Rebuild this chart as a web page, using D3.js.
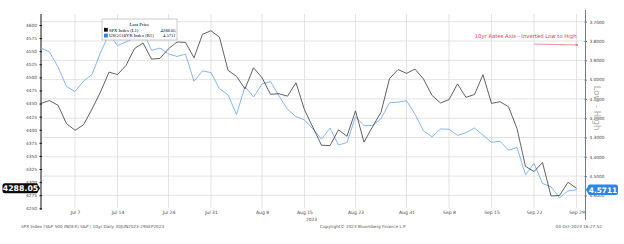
<!DOCTYPE html>
<meta charset="utf-8">
<style>
  body { margin: 0; background: #fff; }
  text { font-family: "DejaVu Sans", sans-serif; }
  .grid { stroke: #dcdcdc; stroke-width: 0.8; }
  .tick text { fill: #444; }
</style>
<body>
<script src="https://d3js.org/d3.v7.min.js"></script>
<script>

  // trading days 30 Jun 2023 - 29 Sep 2023
  const dates = [
    "Jun 30", "Jul 3", "Jul 5", "Jul 6", "Jul 7", "Jul 10", "Jul 11", "Jul 12", "Jul 13", "Jul 14",
    "Jul 17", "Jul 18", "Jul 19", "Jul 20", "Jul 21", "Jul 24", "Jul 25", "Jul 26", "Jul 27", "Jul 28",
    "Jul 31", "Aug 1", "Aug 2", "Aug 3", "Aug 4", "Aug 7", "Aug 8", "Aug 9", "Aug 10", "Aug 11",
    "Aug 14", "Aug 15", "Aug 16", "Aug 17", "Aug 18", "Aug 21", "Aug 22", "Aug 23", "Aug 24", "Aug 25",
    "Aug 28", "Aug 29", "Aug 30", "Aug 31", "Sep 1", "Sep 5", "Sep 6", "Sep 7", "Sep 8", "Sep 11",
    "Sep 12", "Sep 13", "Sep 14", "Sep 15", "Sep 18", "Sep 19", "Sep 20", "Sep 21", "Sep 22", "Sep 25",
    "Sep 26", "Sep 27", "Sep 28", "Sep 29"
  ];

  const spx = [
    4450.4, 4455.6, 4446.8, 4411.6, 4399.0, 4409.5, 4439.3, 4472.2, 4510.0, 4505.4,
    4522.8, 4555.0, 4565.7, 4534.9, 4536.3, 4554.6, 4567.5, 4566.8, 4537.4, 4582.2,
    4589.0, 4576.7, 4513.4, 4501.9, 4478.0, 4518.4, 4499.4, 4467.7, 4468.8, 4464.1,
    4489.7, 4437.9, 4404.3, 4370.4, 4369.7, 4399.8, 4387.6, 4436.0, 4376.3, 4405.7,
    4433.3, 4497.6, 4514.9, 4507.7, 4515.8, 4496.8, 4465.5, 4451.1, 4457.5, 4487.5,
    4461.9, 4467.4, 4505.1, 4450.3, 4453.5, 4444.0, 4402.2, 4330.0, 4320.1, 4337.4,
    4273.5, 4274.5, 4299.7, 4288.05
  ];

  const ust10 = [
    3.837, 3.857, 3.934, 4.036, 4.062, 4.008, 3.973, 3.860, 3.764, 3.824,
    3.805, 3.784, 3.749, 3.848, 3.837, 3.867, 3.880, 3.868, 4.009, 3.955,
    3.964, 4.048, 4.078, 4.181, 4.036, 4.090, 4.023, 4.010, 4.085, 4.154,
    4.192, 4.209, 4.256, 4.308, 4.251, 4.339, 4.326, 4.192, 4.239, 4.238,
    4.203, 4.120, 4.117, 4.109, 4.180, 4.266, 4.296, 4.256, 4.257, 4.289,
    4.275, 4.251, 4.288, 4.325, 4.319, 4.366, 4.352, 4.493, 4.434, 4.538,
    4.556, 4.612, 4.577, 4.5711
  ];

  const xTickDates = ["Jul 7", "Jul 14", "Jul 24", "Jul 31", "Aug 8", "Aug 15", "Aug 23", "Aug 31", "Sep 8", "Sep 15", "Sep 22", "Sep 29"];
  const leftTicks = d3.range(4250, 4601, 25);
  const rightTicks = [3.7, 3.8, 3.9, 4.0, 4.1, 4.2, 4.3, 4.4, 4.5, 4.6];

  const width = 624, height = 244;
  const left = 41, right = 585.5;

  const svg = d3.select("body").append("svg")
    .attr("width", width)
    .attr("height", height);

  const x = d3.scaleLinear().domain([0, dates.length - 1]).range([left, 576.5]);
  const yL = d3.scaleLinear().domain([4250, 4600]).range([208.3, 25]);
  const yR = d3.scaleLinear().domain([3.7, 4.6]).range([21.7, 195.4]); // inverted

  // grid
  svg.append("g").selectAll("line")
    .data(rightTicks)
    .join("line")
    .attr("class", "grid")
    .attr("x1", left).attr("x2", right)
    .attr("y1", d => yR(d)).attr("y2", d => yR(d));

  svg.append("g").selectAll("line")
    .data(xTickDates)
    .join("line")
    .attr("class", "grid")
    .attr("x1", d => x(dates.indexOf(d))).attr("x2", d => x(dates.indexOf(d)))
    .attr("y1", 14).attr("y2", 208);

  // axes
  const axL = svg.append("g")
    .attr("transform", `translate(${left},0)`)
    .call(d3.axisLeft(yL).tickValues(leftTicks).tickSize(2.5).tickPadding(1.5).tickSizeOuter(0).tickFormat(d3.format("d")));
  axL.select(".domain").attr("d", "M0,14V210").attr("stroke", "#111").attr("stroke-width", 1);
  axL.selectAll(".tick line").attr("stroke", "#111").attr("transform", "translate(1,0)");
  axL.selectAll("text").style("font-size", "4.3px");

  const axR = svg.append("g")
    .attr("transform", `translate(${right},0)`)
    .call(d3.axisRight(yR).tickValues(rightTicks).tickSize(2.5).tickPadding(1.5).tickSizeOuter(0).tickFormat(d3.format(".4f")));
  axR.select(".domain").attr("d", "M0,10V220").attr("stroke", "#3b86e0").attr("stroke-width", 1);
  axR.selectAll(".tick line").attr("stroke", "#3b86e0").attr("transform", "translate(-1,0)");
  axR.selectAll("text").style("font-size", "4.3px");

  const axB = svg.append("g")
    .attr("transform", "translate(0,208)")
    .call(d3.axisBottom(x)
      .tickValues(xTickDates.map(d => dates.indexOf(d)))
      .tickFormat(i => dates[i])
      .tickSize(0).tickPadding(3));
  axB.select(".domain").remove();
  axB.selectAll("text").style("font-size", "4.5px");

  svg.append("text")
    .attr("x", x(dates.indexOf("Aug 15")) + 7).attr("y", 220.5)
    .attr("text-anchor", "middle")
    .style("font-size", "4.3px").style("fill", "#444")
    .text("2023");

  // lines
  const lineR = d3.line().x((d, i) => x(i)).y(d => yR(d));
  const lineL = d3.line().x((d, i) => x(i)).y(d => yL(d));

  svg.append("path")
    .datum(ust10)
    .attr("d", lineR)
    .attr("fill", "none")
    .attr("stroke", "#7aaee8")
    .attr("stroke-width", 0.9);

  svg.append("path")
    .datum(spx)
    .attr("d", lineL)
    .attr("fill", "none")
    .attr("stroke", "#3a3a3a")
    .attr("stroke-width", 0.8);

  // legend
  const lg = svg.append("g");
  lg.append("rect")
    .attr("x", 102).attr("y", 19).attr("width", 75).attr("height", 21)
    .attr("fill", "#fff").attr("stroke", "#b5b5b5").attr("stroke-width", 0.7);
  lg.append("text").attr("x", 139.5).attr("y", 25.5).attr("text-anchor", "middle")
    .style("font-family", "Liberation Serif").style("font-size", "5px").text("Last Price");
  const rows = [
    { color: "#111", name: "SPX Index  (L1)", val: d3.format(".2f")(spx[spx.length - 1]) },
    { color: "#2f7fe0", name: "USGG10YR Index  (R1)", val: d3.format(".4f")(ust10[ust10.length - 1]) }
  ];
  rows.forEach((r, i) => {
    const yy = 31.5 + i * 5.8;
    lg.append("rect").attr("x", 104).attr("y", yy - 3.6).attr("width", 3.8).attr("height", 3.8).attr("fill", r.color);
    lg.append("text").attr("x", 109).attr("y", yy)
      .style("font-family", "Liberation Serif").style("font-size", "4.6px").text(r.name);
    lg.append("text").attr("x", 175.5).attr("y", yy).attr("text-anchor", "end")
      .style("font-family", "Liberation Serif").style("font-size", "4.6px").text(r.val);
  });

  // last value labels
  const yl = yL(spx[spx.length - 1]);
  svg.append("path")
    .attr("d", `M5,${yl - 5}H37L40,${yl}L37,${yl + 5}H5Q2.5,${yl + 5} 2.5,${yl + 2.5}V${yl - 2.5}Q2.5,${yl - 5} 5,${yl - 5}Z`)
    .attr("fill", "#0b0b0b");
  svg.append("text").attr("x", 20.5).attr("y", yl + 2.8)
    .attr("text-anchor", "middle")
    .style("font-size", "7.8px").style("font-weight", "bold").style("fill", "#fff")
    .text(d3.format(".2f")(spx[spx.length - 1]));

  const yr = yR(ust10[ust10.length - 1]);
  svg.append("path")
    .attr("d", `M586,${yr}L589,${yr - 5.2}H615.5Q618,${yr - 5.2} 618,${yr - 2.7}V${yr + 2.7}Q618,${yr + 5.2} 615.5,${yr + 5.2}H589Z`)
    .attr("fill", "#2a86e8");
  svg.append("text").attr("x", 603).attr("y", yr + 2.7)
    .attr("text-anchor", "middle")
    .style("font-size", "7.4px").style("font-weight", "bold").style("fill", "#fff")
    .text(d3.format(".4f")(ust10[ust10.length - 1]));

  // annotation
  svg.append("text").attr("x", 576.5).attr("y", 37.5).attr("text-anchor", "end")
    .style("font-size", "5.3px").style("fill", "#e8414f")
    .text("10yr Rates Axis - Inverted Low to High");
  svg.append("defs").append("marker")
    .attr("id", "arr").attr("viewBox", "0 0 10 10").attr("refX", 9).attr("refY", 5)
    .attr("markerWidth", 5).attr("markerHeight", 5).attr("orient", "auto")
    .append("path").attr("d", "M0,1L10,5L0,9").attr("fill", "none").attr("stroke", "#e8414f").attr("stroke-width", 1.5);
  svg.append("line")
    .attr("x1", 534).attr("y1", 44).attr("x2", 578).attr("y2", 45)
    .attr("stroke", "#e8414f").attr("stroke-width", 0.6)
    .attr("marker-end", "url(#arr)");

  svg.append("text")
    .attr("transform", "translate(594,108) rotate(90)")
    .attr("text-anchor", "middle")
    .style("font-size", "8.5px").style("fill", "#b0b0b0")
    .text("Low - High");

  // footer
  const foot = [
    { x: 21, anchor: "start", t: "SPX Index (S&P 500 INDEX) S&P / 10yr  Daily 30JUN2023-29SEP2023" },
    { x: 320, anchor: "start", t: "Copyright\u00a9 2023 Bloomberg Finance L.P." },
    { x: 602, anchor: "end", t: "04-Oct-2023 16:27:52" }
  ];
  svg.selectAll(".foot").data(foot).join("text")
    .attr("class", "foot")
    .attr("x", d => d.x).attr("y", 227.5)
    .attr("text-anchor", d => d.anchor)
    .style("font-size", "4.2px").style("fill", "#555")
    .text(d => d.t);

</script>
</body>
</html>
